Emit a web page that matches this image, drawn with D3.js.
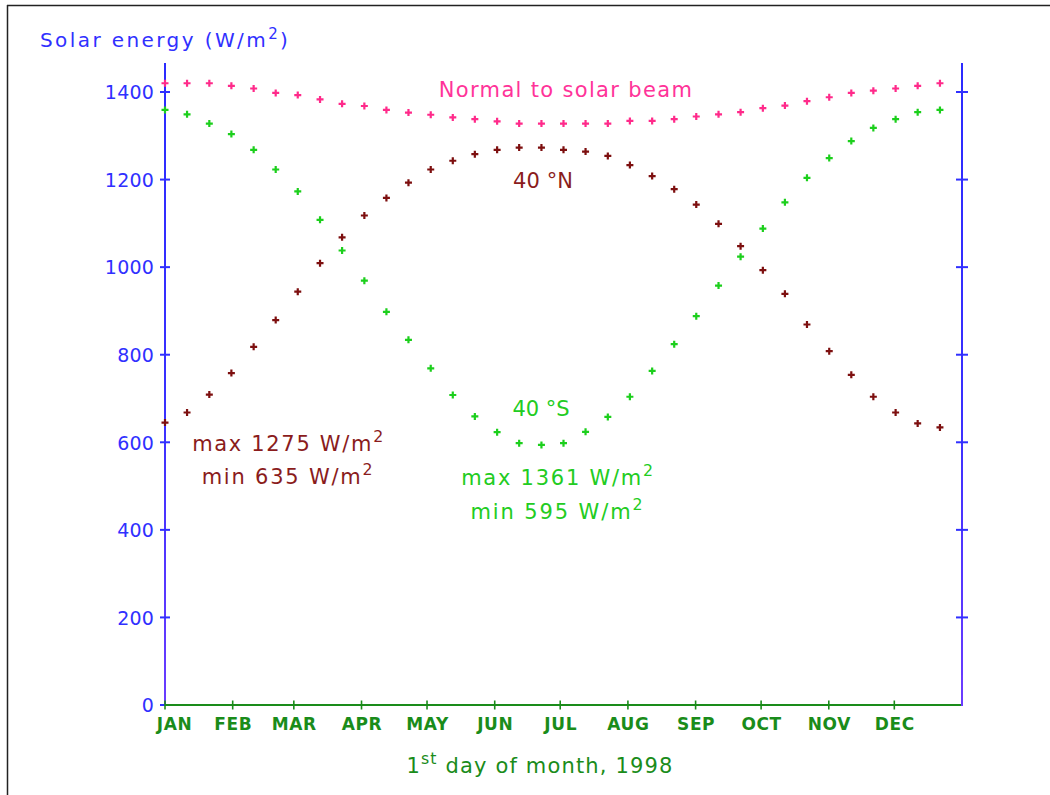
<!DOCTYPE html>
<html>
<head>
<meta charset="utf-8">
<script src="https://cdn.jsdelivr.net/npm/d3@7"></script>
<style>
  html, body { margin: 0; padding: 0; background: #fff; }
  svg { display: block; }
  text { font-family: "DejaVu Sans", Verdana, sans-serif; }
</style>
</head>
<body>
<svg id="chart" width="1050" height="795"></svg>
<script>
// ---- Data ----
const monthLabels = ["JAN","FEB","MAR","APR","MAY","JUN","JUL","AUG","SEP","OCT","NOV","DEC"];
const monthStartDays = [0,31,59,90,120,151,181,212,243,273,304,334];
const yTickValues = [0,200,400,600,800,1000,1200,1400];
const sampleDays = [0,10.1,20.3,30.4,40.6,50.7,60.8,71.0,81.1,91.3,101.4,111.5,121.7,131.8,141.9,152.1,162.2,172.4,
                    182.5,192.6,202.8,212.9,223.1,233.2,243.3,253.5,263.6,273.8,283.9,294.0,304.2,314.3,324.4,334.6,344.7,354.9];
const normalBeam = [1420,1420,1420,1414,1408,1398,1393,1383,1373,1368,1359,1353,1348,1342,1338,1333,1328,1328,
                    1328,1328,1328,1334,1334,1338,1344,1349,1354,1363,1369,1379,1388,1398,1403,1408,1414,1420];
const lat40N = [645,668,709,758,818,879,944,1009,1068,1118,1158,1193,1223,1243,1258,1268,1273,1273,
                1268,1264,1254,1233,1208,1178,1143,1099,1048,993,939,869,808,754,704,668,643,634];
const lat40S = [1359,1349,1328,1304,1268,1223,1173,1108,1038,969,898,834,769,708,659,623,598,594,
                598,624,658,704,763,824,888,958,1024,1088,1148,1204,1249,1288,1318,1338,1354,1359];

// ---- Colours ----
const C = {
  blue: "#3030ff", pink: "#ff2a8a", maroon: "#7d0f0f", green: "#1ccf1c", axisGreen: "#1a8c1a",
  maroonText: "#8a1c1c", greenText: "#22cc22", pinkText: "#ff3399"
};

const svg = d3.select("#chart");
const x = d3.scaleLinear().domain([0, 365]).range([165, 962]);
const y = d3.scaleLinear().domain([0, 1400]).range([705, 92]);

// frame
svg.append("line").attr("x1", 7).attr("x2", 1050).attr("y1", 5.5).attr("y2", 5.5).attr("stroke", "#222").attr("stroke-width", 1.5);
svg.append("line").attr("x1", 7.5).attr("x2", 7.5).attr("y1", 5).attr("y2", 795).attr("stroke", "#222").attr("stroke-width", 1.5);

const defs = svg.append("defs");
const grad = defs.append("linearGradient").attr("id", "axgrad").attr("gradientUnits", "userSpaceOnUse")
  .attr("x1", 0).attr("y1", 63).attr("x2", 0).attr("y2", 705);
grad.append("stop").attr("offset", "0%").attr("stop-color", "#2b2bff");
grad.append("stop").attr("offset", "55%").attr("stop-color", "#3a30ff");
grad.append("stop").attr("offset", "100%").attr("stop-color", "#6a3cff");

function fit(sel, target) {
  sel.each(function() {
    const node = this;
    const n = node.textContent.length;
    const w = node.getBBox().width;
    const ls = (target - w) / Math.max(1, n - 1);
    d3.select(node).attr("letter-spacing", ls.toFixed(2));
  });
}

// Left axis
const leftAxis = d3.axisLeft(y).tickValues(yTickValues).tickSize(0).tickPadding(10).tickFormat(d3.format("d"));
const gL = svg.append("g").attr("transform", `translate(${x(0)},0)`).call(leftAxis);
gL.select(".domain").remove();
gL.selectAll(".tick text").attr("fill", C.blue).attr("font-size", 19).attr("dy", "0.36em").attr("x", -11)
  .attr("letter-spacing", 0.2);
svg.append("line").attr("x1", x(0)).attr("x2", x(0)).attr("y1", 63).attr("y2", y(0))
  .attr("stroke", "url(#axgrad)").attr("stroke-width", 2);
svg.append("g").selectAll("line").data(yTickValues).join("line")
  .attr("x1", x(0) - 5).attr("x2", x(0) + 5).attr("y1", d => y(d)).attr("y2", d => y(d))
  .attr("stroke", C.blue).attr("stroke-width", 2);

// Right axis
svg.append("line").attr("x1", x(365)).attr("x2", x(365)).attr("y1", 63).attr("y2", y(0))
  .attr("stroke", "url(#axgrad)").attr("stroke-width", 2);
svg.append("g").selectAll("line").data(yTickValues.filter(d => d > 0)).join("line")
  .attr("x1", x(365) - 6).attr("x2", x(365) + 6).attr("y1", d => y(d)).attr("y2", d => y(d))
  .attr("stroke", C.blue).attr("stroke-width", 2);

// Bottom axis
const bottomAxis = d3.axisBottom(x).tickValues(monthStartDays).tickSize(0).tickFormat((d, i) => monthLabels[i]);
const gB = svg.append("g").attr("transform", `translate(0,${y(0)})`).call(bottomAxis);
gB.select(".domain").remove();
gB.selectAll(".tick text").attr("fill", C.axisGreen).attr("font-size", 17).attr("font-weight", "bold")
  .attr("letter-spacing", 0.6).attr("dy", 0).attr("y", 25)
  .attr("x", (d) => Math.max(0, 174 - x(d)));
svg.append("line").attr("x1", x(0)).attr("x2", x(365)).attr("y1", y(0)).attr("y2", y(0))
  .attr("stroke", C.axisGreen).attr("stroke-width", 2);
svg.append("g").selectAll("line").data(monthStartDays).join("line")
  .attr("x1", d => x(d)).attr("x2", d => x(d)).attr("y1", y(0) - 4.5).attr("y2", y(0) + 4.5)
  .attr("stroke", C.axisGreen).attr("stroke-width", 1.6);
svg.append("line").attr("x1", x(365)).attr("x2", x(365)).attr("y1", y(0) - 30).attr("y2", y(0) + 1)
  .attr("stroke", "#6a3cff").attr("stroke-width", 2);

// Points (plus markers)
function plusSeries(values, color) {
  svg.append("g").selectAll("path").data(values).join("path")
    .attr("transform", (d, i) => `translate(${x(sampleDays[i])},${y(d)})`)
    .attr("d", "M-3.5,0H3.5M0,-3.5V3.5")
    .attr("stroke", color).attr("stroke-width", 2.2).attr("fill", "none");
}
plusSeries(normalBeam, C.pink);
plusSeries(lat40N, C.maroon);
plusSeries(lat40S, C.green);

// Texts
function label(xc, yb, anchor, color, size, parts, target) {
  const t = svg.append("text").attr("x", xc).attr("y", yb).attr("text-anchor", anchor)
    .attr("fill", color).attr("font-size", size);
  parts.forEach(p => {
    if (typeof p === "string") t.append("tspan").text(p);
    else t.append("tspan").text(p.sup).attr("font-size", size * 0.75).attr("dy", -size * 0.42)
      .attr("data-sup", 1);
  });
  t.selectAll("tspan").each(function(d, i, nodes) {
    if (i > 0 && nodes[i - 1].getAttribute("data-sup") && !this.getAttribute("data-sup")) {
      d3.select(this).attr("dy", size * 0.42);
    }
  });
  if (target) fit(t, target);
  return t;
}

label(40, 47, "start", C.blue, 20, ["Solar energy (W/m", {sup: "2"}, ")"], 248);
label(566, 97, "middle", C.pinkText, 21, ["Normal to solar beam"], 253);
label(543, 188, "middle", C.maroonText, 21, ["40 °N"], 60);
label(541, 416, "middle", C.greenText, 21, ["40 °S"], 57);
label(288.5, 451, "middle", C.maroonText, 21, ["max 1275 W/m", {sup: "2"}], 191);
label(288, 484, "middle", C.maroonText, 21, ["min 635 W/m", {sup: "2"}], 171);
label(558, 485, "middle", C.greenText, 21, ["max 1361 W/m", {sup: "2"}], 192);
label(557.5, 519, "middle", C.greenText, 21, ["min 595 W/m", {sup: "2"}], 172);
label(540, 773, "middle", C.axisGreen, 21, ["1", {sup: "st"}, " day of month, 1998"], 266);
</script>
</body>
</html>
